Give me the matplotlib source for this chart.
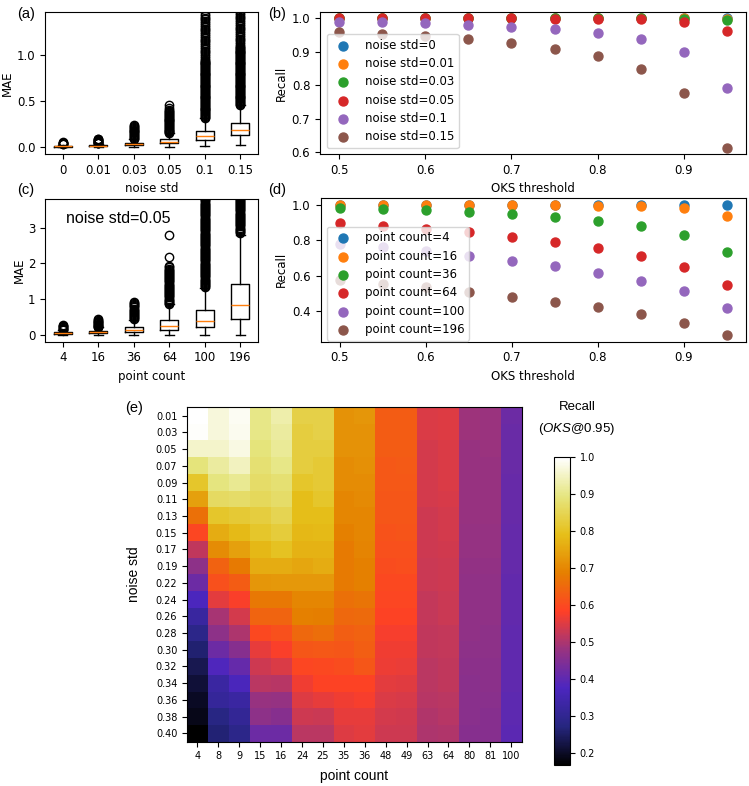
import numpy as np
import matplotlib
matplotlib.use("Agg")
import matplotlib.pyplot as plt

# ---------------- data ----------------
noise_labels = ["0", "0.01", "0.03", "0.05", "0.1", "0.15"]
a_q1 = [0.005, 0.010, 0.025, 0.040, 0.080, 0.128]
a_med = [0.010, 0.015, 0.035, 0.058, 0.117, 0.182]
a_q3 = [0.015, 0.020, 0.050, 0.084, 0.175, 0.262]
a_lo = [0.000, 0.002, 0.005, 0.005, 0.010, 0.026]
a_hi = [0.028, 0.035, 0.085, 0.150, 0.320, 0.460]
# outliers, in hundredths of MAE
a_fl0 = [3.0, 3.5, 4.0, 4.5, 5.0, 5.5]
a_fl1 = [4.0, 4.5, 5.0, 5.5, 6.0, 6.5, 7.0, 7.5, 8.0, 8.5, 9.0]
a_fl2 = [9, 10, 11, 12, 13, 14, 15, 16, 17, 18, 19, 20, 21, 22, 23, 24]
a_fl3 = [15, 16, 17, 18, 19, 20, 21, 22, 23, 24, 25, 26, 27, 28, 29, 30, 31, 32,
         33, 34, 35, 36, 37, 38, 39, 40, 43, 46]
a_fl4 = [32, 33, 34, 35, 36, 37, 38, 39, 40, 41, 42, 43, 44, 45, 46, 47, 48, 49,
         50, 51, 52, 53, 54, 55, 56, 57, 58, 59, 60, 61, 62, 63, 64, 65, 66, 67,
         68, 69, 70, 71, 72, 73, 74, 75, 76, 77, 78, 79, 80, 81, 82, 83, 84, 85,
         86, 87, 88, 89, 90, 91, 92, 93, 94, 95, 97, 99, 101, 103, 105, 107, 109,
         111, 113, 115, 117, 119, 121, 123, 125, 127, 129, 131, 133, 135, 137,
         139, 141, 143, 145]
a_fl5 = [46, 47, 48, 49, 50, 51, 52, 53, 54, 55, 56, 57, 58, 59, 60, 61, 62, 63,
         64, 65, 66, 67, 68, 69, 70, 71, 72, 73, 74, 75, 76, 77, 78, 79, 80, 81,
         82, 83, 84, 85, 86, 87, 88, 89, 90, 91, 92, 93, 94, 95, 96, 97, 98, 99,
         100, 101, 102, 103, 104, 105, 106, 107, 108, 109, 110, 112, 114, 116,
         118, 120, 122, 124, 126, 128, 130, 132, 134, 136, 138, 140, 142, 144,
         146, 148]

count_labels = ["4", "16", "36", "64", "100", "196"]
c_q1 = [0.020, 0.030, 0.075, 0.122, 0.216, 0.450]
c_med = [0.040, 0.066, 0.140, 0.254, 0.394, 0.826]
c_q3 = [0.060, 0.100, 0.216, 0.413, 0.685, 1.410]
c_lo = [0.0, 0.0, 0.0, 0.0, 0.0, 0.0]
c_hi = [0.12, 0.20, 0.42, 0.85, 1.30, 2.80]
# outliers, in hundredths of MAE
c_fl0 = [13, 15, 17, 19, 21, 23, 25, 27]
c_fl1 = [20, 22, 24, 26, 28, 30, 32, 34, 36, 38, 40, 43]
c_fl2 = [43, 46, 49, 52, 55, 58, 61, 64, 67, 70, 73, 76, 79, 82, 85, 88, 91]
c_fl3 = [86, 89, 92, 95, 98, 101, 104, 107, 110, 113, 116, 119, 122, 125, 128,
         131, 134, 137, 140, 143, 146, 149, 152, 155, 158, 161, 164, 167, 170,
         173, 176, 179, 182, 185, 188, 191, 217, 278]
c_fl4 = [133, 136, 139, 142, 145, 148, 151, 154, 157, 160, 163, 166, 169, 172,
         175, 178, 181, 184, 187, 190, 193, 196, 199, 202, 205, 208, 211, 214,
         217, 220, 223, 226, 229, 232, 235, 238, 241, 244, 247, 250, 253, 256,
         259, 262, 265, 268, 271, 274, 277, 280, 283, 286, 289, 292, 295, 298,
         301, 304, 307, 310, 313, 316, 319, 322, 325, 328, 331, 334, 337, 340,
         343, 346, 349, 352, 355, 358, 361, 364, 367, 370, 373, 376, 379, 382,
         385, 388]
c_fl5 = [285, 288, 291, 294, 297, 300, 303, 306, 309, 312, 315, 318, 321, 324,
         327, 330, 333, 336, 339, 342, 345, 348, 351, 354, 357, 360, 363, 366,
         369, 372, 375, 378, 381, 384, 387, 390]

oks = [0.5, 0.55, 0.6, 0.65, 0.7, 0.75, 0.8, 0.85, 0.9, 0.95]
b_labels = ["noise std=0", "noise std=0.01", "noise std=0.03",
            "noise std=0.05", "noise std=0.1", "noise std=0.15"]
b_std0 = [1.0, 1.0, 1.0, 1.0, 1.0, 1.0, 1.0, 1.0, 1.0, 1.0]
b_std001 = [1.0, 1.0, 1.0, 1.0, 1.0, 1.0, 1.0, 1.0, 1.0, 0.999]
b_std003 = [1.0, 1.0, 1.0, 1.0, 1.0, 1.0, 1.0, 1.0, 0.999, 0.996]
b_std005 = [1.0, 1.0, 1.0, 1.0, 1.0, 0.999, 0.999, 0.998, 0.990, 0.963]
b_std01 = [0.990, 0.988, 0.985, 0.980, 0.975, 0.967, 0.957, 0.937, 0.898, 0.793]
b_std015 = [0.960, 0.954, 0.948, 0.937, 0.925, 0.909, 0.886, 0.849, 0.777, 0.613]

d_labels = ["point count=4", "point count=16", "point count=36",
            "point count=64", "point count=100", "point count=196"]
d_pc4 = [1.0, 1.0, 1.0, 1.0, 1.0, 1.0, 1.0, 1.0, 1.0, 0.996]
d_pc16 = [1.0, 1.0, 1.0, 1.0, 1.0, 0.999, 0.994, 0.991, 0.979, 0.938]
d_pc36 = [0.979, 0.974, 0.968, 0.959, 0.946, 0.932, 0.910, 0.878, 0.827, 0.732]
d_pc64 = [0.897, 0.882, 0.865, 0.844, 0.818, 0.790, 0.756, 0.711, 0.651, 0.548]
d_pc100 = [0.779, 0.760, 0.739, 0.711, 0.685, 0.653, 0.616, 0.571, 0.511, 0.419]
d_pc196 = [0.574, 0.554, 0.537, 0.509, 0.482, 0.452, 0.421, 0.383, 0.334, 0.265]

hm_noise = ["0.01", "0.03", "0.05", "0.07", "0.09", "0.11", "0.13", "0.15", "0.17",
            "0.19", "0.22", "0.24", "0.26", "0.28", "0.30", "0.32", "0.34", "0.36",
            "0.38", "0.40"]
hm_count = ["4", "8", "9", "15", "16", "24", "25", "35", "36", "48", "49", "63",
            "64", "80", "81", "100"]
hm_recall = [
    [1.000, 0.970, 0.990, 0.900, 0.930, 0.840, 0.840, 0.720, 0.725, 0.630, 0.632, 0.545, 0.550, 0.485, 0.483, 0.420],
    [0.995, 0.970, 0.985, 0.900, 0.920, 0.830, 0.840, 0.720, 0.720, 0.630, 0.632, 0.545, 0.550, 0.485, 0.483, 0.418],
    [0.955, 0.955, 0.975, 0.890, 0.915, 0.830, 0.830, 0.720, 0.720, 0.630, 0.630, 0.540, 0.548, 0.480, 0.482, 0.416],
    [0.890, 0.920, 0.945, 0.880, 0.900, 0.830, 0.820, 0.710, 0.715, 0.625, 0.628, 0.540, 0.545, 0.480, 0.480, 0.415],
    [0.810, 0.895, 0.910, 0.870, 0.880, 0.810, 0.820, 0.710, 0.710, 0.625, 0.625, 0.540, 0.545, 0.480, 0.480, 0.414],
    [0.740, 0.865, 0.870, 0.860, 0.870, 0.790, 0.810, 0.700, 0.705, 0.620, 0.622, 0.540, 0.543, 0.478, 0.478, 0.413],
    [0.665, 0.810, 0.820, 0.830, 0.850, 0.790, 0.790, 0.700, 0.700, 0.620, 0.622, 0.535, 0.540, 0.478, 0.477, 0.412],
    [0.595, 0.760, 0.785, 0.810, 0.825, 0.780, 0.785, 0.690, 0.700, 0.615, 0.618, 0.535, 0.540, 0.475, 0.476, 0.411],
    [0.520, 0.710, 0.740, 0.780, 0.800, 0.770, 0.770, 0.680, 0.695, 0.610, 0.612, 0.535, 0.538, 0.475, 0.475, 0.410],
    [0.465, 0.640, 0.680, 0.760, 0.760, 0.750, 0.760, 0.680, 0.690, 0.605, 0.607, 0.530, 0.535, 0.473, 0.473, 0.410],
    [0.420, 0.610, 0.630, 0.725, 0.730, 0.730, 0.730, 0.680, 0.690, 0.600, 0.600, 0.530, 0.535, 0.470, 0.470, 0.408],
    [0.375, 0.555, 0.580, 0.675, 0.675, 0.700, 0.700, 0.665, 0.670, 0.595, 0.595, 0.525, 0.530, 0.470, 0.469, 0.407],
    [0.325, 0.495, 0.540, 0.645, 0.645, 0.690, 0.685, 0.650, 0.655, 0.590, 0.588, 0.525, 0.530, 0.468, 0.467, 0.406],
    [0.290, 0.465, 0.500, 0.600, 0.610, 0.650, 0.660, 0.635, 0.640, 0.575, 0.575, 0.520, 0.525, 0.467, 0.466, 0.405],
    [0.260, 0.420, 0.455, 0.560, 0.580, 0.620, 0.625, 0.620, 0.635, 0.570, 0.568, 0.520, 0.525, 0.465, 0.465, 0.404],
    [0.235, 0.380, 0.410, 0.535, 0.545, 0.595, 0.600, 0.605, 0.620, 0.565, 0.562, 0.515, 0.520, 0.463, 0.463, 0.403],
    [0.215, 0.330, 0.370, 0.515, 0.510, 0.570, 0.590, 0.590, 0.590, 0.555, 0.553, 0.515, 0.520, 0.460, 0.462, 0.402],
    [0.200, 0.315, 0.330, 0.480, 0.475, 0.550, 0.560, 0.570, 0.575, 0.545, 0.543, 0.510, 0.515, 0.460, 0.460, 0.401],
    [0.190, 0.280, 0.310, 0.465, 0.455, 0.535, 0.530, 0.560, 0.560, 0.540, 0.537, 0.505, 0.510, 0.458, 0.457, 0.400],
    [0.168, 0.265, 0.290, 0.420, 0.420, 0.515, 0.515, 0.550, 0.555, 0.535, 0.532, 0.500, 0.505, 0.455, 0.455, 0.398],
]

# ---------------- style ----------------
plt.rcParams['font.family'] = ['DejaVu Sans']
plt.rcParams['mathtext.fontset'] = 'custom'
plt.rcParams['mathtext.it'] = 'Liberation Sans:italic'
plt.rcParams['mathtext.rm'] = 'Liberation Sans'
FS = 8.5
HF = 'Liberation Sans'

W, H = 749, 786
fig = plt.figure(figsize=(W / 100, H / 100), dpi=100)


def add_ax(l, r, t, b):
    return fig.add_axes([l / W, 1 - b / H, (r - l) / W, (b - t) / H])


def stats(q1, med, q3, lo, hi, fls):
    return [dict(q1=a, med=m, q3=c, whislo=d, whishi=e,
                 fliers=np.asarray(f, dtype=float) / 100.0)
            for a, m, c, d, e, f in zip(q1, med, q3, lo, hi, fls)]


# (a)
ax_a = add_ax(45, 258, 12, 154)
ax_a.bxp(stats(a_q1, a_med, a_q3, a_lo, a_hi,
               [a_fl0, a_fl1, a_fl2, a_fl3, a_fl4, a_fl5]))
ax_a.set_xticks(range(1, 7), noise_labels)
ax_a.set_ylim(-0.075, 1.47)
ax_a.set_yticks([0.0, 0.5, 1.0])
ax_a.set_xlabel("noise std", fontsize=FS)
ax_a.set_ylabel("MAE", fontsize=FS)
ax_a.yaxis.set_label_coords((14 - 45) / 213, 0.5)
ax_a.tick_params(labelsize=FS)

# (c)
ax_c = add_ax(45, 258, 199, 341.7)
ax_c.bxp(stats(c_q1, c_med, c_q3, c_lo, c_hi,
               [c_fl0, c_fl1, c_fl2, c_fl3, c_fl4, c_fl5]))
ax_c.set_xticks(range(1, 7), count_labels)
ax_c.set_ylim(-0.2, 3.8)
ax_c.set_yticks([0, 1, 2, 3])
ax_c.set_xlabel("point count", fontsize=FS)
ax_c.set_ylabel("MAE", fontsize=FS)
ax_c.yaxis.set_label_coords((26 - 45) / 213, 0.5)
ax_c.tick_params(labelsize=FS)
ax_c.text(0.10, 0.86, "noise std=0.05", transform=ax_c.transAxes,
          family=HF, fontsize=11.5, ha='left', va='center')

# (b)
ax_b = add_ax(320, 746, 12, 154)
for ys, lab in zip([b_std0, b_std001, b_std003, b_std005, b_std01, b_std015], b_labels):
    ax_b.scatter(oks, ys, s=42, label=lab)
ax_b.set_xlabel("OKS threshold", fontsize=FS)
ax_b.set_ylabel("Recall", fontsize=FS)
ax_b.yaxis.set_label_coords((288 - 320) / 426, 0.5)
ax_b.tick_params(labelsize=FS)
ax_b.legend(loc='lower left', bbox_to_anchor=(0.016, 0.042), borderaxespad=0,
            fontsize=FS, labelspacing=0.45)

# (d)
ax_d = add_ax(320.5, 746, 198, 341.7)
for ys, lab in zip([d_pc4, d_pc16, d_pc36, d_pc64, d_pc100, d_pc196], d_labels):
    ax_d.scatter(oks, ys, s=42, label=lab)
ax_d.set_xlabel("OKS threshold", fontsize=FS)
ax_d.set_ylabel("Recall", fontsize=FS)
ax_d.yaxis.set_label_coords((288 - 320.5) / 425.5, 0.5)
ax_d.tick_params(labelsize=FS)
ax_d.set_yticks([0.4, 0.6, 0.8, 1.0])
ax_d.legend(loc='lower left', bbox_to_anchor=(0.015, 0.007), borderaxespad=0,
            fontsize=FS, labelspacing=0.45)

# (e)
ax_e = add_ax(187, 521.7, 407.3, 741.7)
im = ax_e.imshow(np.array(hm_recall), cmap='CMRmap', aspect='auto',
                 interpolation='nearest')
ax_e.set_xticks(range(len(hm_count)), hm_count)
ax_e.set_yticks(range(len(hm_noise)), hm_noise)
ax_e.tick_params(labelsize=7)
ax_e.set_xlabel("point count", family=HF, fontsize=10)
ax_e.xaxis.set_label_coords(0.5, (741.7 - 769) / 334.4)
ax_e.set_ylabel("noise std", family=HF, fontsize=10)
ax_e.yaxis.set_label_coords((141 - 187) / 334.7, 0.5)

cax = add_ax(554, 570, 457.3, 765)
cb = fig.colorbar(im, cax=cax)
cb.set_ticks([0.2, 0.3, 0.4, 0.5, 0.6, 0.7, 0.8, 0.9, 1.0])
cb.ax.tick_params(labelsize=7)
fig.text(577 / W, 1 - 407 / H, "Recall", family=HF, fontsize=9.5,
         ha='center', va='center')
fig.text(577 / W, 1 - 429 / H, r"($\mathit{OKS@0.95}$)", family=HF, fontsize=9.5,
         ha='center', va='center')

# panel labels
for txt, x, y in [("(a)", 17, 14), ("(b)", 268, 14), ("(c)", 17, 190),
                  ("(d)", 268, 190), ("(e)", 125, 408)]:
    fig.text(x / W, 1 - y / H, txt, family=HF, fontsize=10.5, ha='left', va='center')

fig.savefig("out.png", dpi=100)
